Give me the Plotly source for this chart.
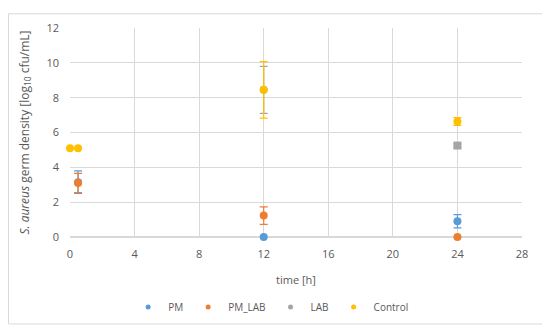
import plotly.graph_objects as go

# --- data ---
pm_t = [0.5, 12, 24]
pm_val = [3.15, 0.0, 0.9]
pm_err = [0.65, 0.0, 0.38]

pmlab_t = [0.5, 12, 24]
pmlab_val = [3.1, 1.23, 0.0]
pmlab_err = [0.55, 0.5, 0.0]

lab_t = [12, 24]
lab_val = [8.45, 5.25]
lab_err = [1.35, 0.1]

ctrl_t = [0, 0.5, 12, 24]
ctrl_val = [5.1, 5.1, 8.45, 6.63]
ctrl_err = [0.0, 0.0, 1.62, 0.22]

x_ticks = [0, 4, 8, 12, 16, 20, 24, 28]
y_ticks = [0, 2, 4, 6, 8, 10, 12]

# --- style ---
FONT = "Open Sans"
TXT = "#595959"
GRID = "#D9D9D9"

series = [
    ("PM", pm_t, pm_val, pm_err, "#5B9BD5", "circle"),
    ("PM_LAB", pmlab_t, pmlab_val, pmlab_err, "#ED7D31", "circle"),
    ("LAB", lab_t, lab_val, lab_err, "#A5A5A5", ["circle", "square"]),
    ("Control", ctrl_t, ctrl_val, ctrl_err, "#FFC000", "circle"),
]

fig = go.Figure()
for name, t, v, e, col, sym in series:
    fig.add_trace(
        go.Scatter(
            x=t,
            y=v,
            name=name,
            mode="markers",
            showlegend=False,
            cliponaxis=False,
            marker=dict(color=col, size=8, symbol=sym),
            error_y=dict(type="data", array=e, visible=True, color=col,
                         thickness=1.2, width=4),
        )
    )

# small legend markers, as in the reference
for name, t, v, e, col, sym in series:
    fig.add_trace(
        go.Scatter(
            x=[None],
            y=[None],
            name=name,
            mode="markers",
            marker=dict(color=col, size=5, symbol="circle"),
        )
    )

# page body has an 8px margin, so the figure is a bit smaller than the window
fig.update_layout(
    width=542,
    height=326,
    margin=dict(l=62, r=28, t=15, b=97),
    paper_bgcolor="white",
    plot_bgcolor="white",
    font=dict(family=FONT, size=11, color=TXT),
    showlegend=True,
    legend=dict(
        orientation="h",
        x=0.445,
        xanchor="center",
        y=-0.335,
        yanchor="middle",
        font=dict(size=10, color=TXT),
        itemwidth=30,
        tracegroupgap=0,
    ),
    xaxis=dict(
        range=[0, 28],
        tickvals=x_ticks,
        showgrid=True,
        gridcolor=GRID,
        zeroline=False,
        showline=False,
        ticks="",
        ticklabelstandoff=9,
        title=dict(text="time [h]", font=dict(size=11, color=TXT), standoff=16),
    ),
    yaxis=dict(
        range=[0, 12],
        tickvals=y_ticks,
        showgrid=True,
        gridcolor=GRID,
        zeroline=True,
        zerolinecolor=GRID,
        showline=False,
        ticks="",
        ticklabelstandoff=10,
        title=dict(
            text="<i>S. aureus</i> germ density [log<sub>10</sub> cfu/mL]",
            font=dict(size=12, color=TXT),
            standoff=14,
        ),
    ),
    shapes=[
        dict(
            type="rect",
            xref="paper",
            yref="paper",
            x0=-0.136,
            x1=1.046,
            y0=-0.416,
            y1=1.068,
            line=dict(color="#D9D9D9", width=1),
            fillcolor="rgba(0,0,0,0)",
            layer="below",
        )
    ],
)

fig.write_html("out.html")
